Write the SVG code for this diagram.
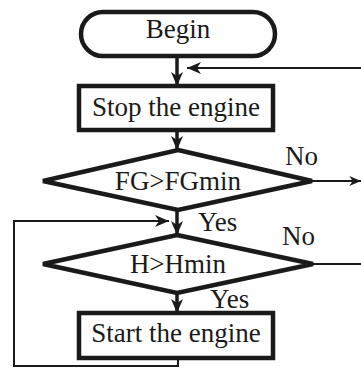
<svg xmlns="http://www.w3.org/2000/svg" width="361" height="371" viewBox="0 0 361 371">
  <style>
    .shape { fill: #fff; stroke: #1a1a1a; stroke-width: 4.5; stroke-linejoin: miter; }
    .label { font-family: "Liberation Serif", "Times New Roman", serif; font-size: 27px; fill: #1a1a1a; }
    .mid { text-anchor: middle; }
    .flow { fill: none; stroke: #1a1a1a; stroke-width: 3.5; }
    .thin { fill: none; stroke: #1a1a1a; stroke-width: 2; }
  </style>
  <defs>
    <marker id="head" viewBox="0 0 14 12" refX="14" refY="6" markerWidth="14" markerHeight="12" markerUnits="userSpaceOnUse" orient="auto">
      <path d="M0,0 L14,6 L0,12 L4,6 z" fill="#1a1a1a"/>
    </marker>
    <marker id="headSmall" viewBox="0 0 14 12" refX="14" refY="6" markerWidth="12" markerHeight="10" markerUnits="userSpaceOnUse" orient="auto">
      <path d="M0,0 L14,6 L0,12 L4,6 z" fill="#1a1a1a"/>
    </marker>
  </defs>

  <g id="connectors">
    <path class="flow" d="M177,57 V86" marker-end="url(#head)"/>
    <path class="thin" d="M361,68 H187" marker-end="url(#head)"/>
    <path class="flow" d="M177,130 V150" marker-end="url(#head)"/>
    <path class="thin" d="M312,181 H361" stroke-width="2.5" marker-end="url(#headSmall)"/>
    <path class="flow" d="M177,210 V235" marker-end="url(#head)"/>
    <path class="thin" d="M178,358 V366 H14 V221 H169" marker-end="url(#head)"/>
    <path class="thin" d="M313,264 H361" stroke-width="2.5"/>
    <path class="flow" d="M177,293 V313" marker-end="url(#head)"/>
  </g>

  <g id="begin">
    <rect class="shape" x="81" y="12" width="194" height="44" rx="22" ry="22"/>
    <text class="label mid" x="178" y="38">Begin</text>
  </g>

  <g id="stop-engine">
    <rect class="shape" x="79" y="86" width="194" height="44"/>
    <text class="label mid" x="176" y="116">Stop the engine</text>
  </g>

  <g id="check-fg">
    <polygon class="shape" points="178,150 312,181 178,210 43,181"/>
    <text class="label mid" x="178" y="190">FG&gt;FGmin</text>
    <text class="label" x="285" y="165">No</text>
    <text class="label" x="198" y="231">Yes</text>
  </g>

  <g id="check-h">
    <polygon class="shape" points="177,235 313,264 177,293 43,264"/>
    <text class="label mid" x="178" y="273">H&gt;Hmin</text>
    <text class="label" x="282" y="245">No</text>
    <text class="label" x="210" y="308">Yes</text>
  </g>

  <g id="start-engine">
    <rect class="shape" x="79" y="313" width="194" height="45"/>
    <text class="label mid" x="176" y="342">Start the engine</text>
  </g>
</svg>
